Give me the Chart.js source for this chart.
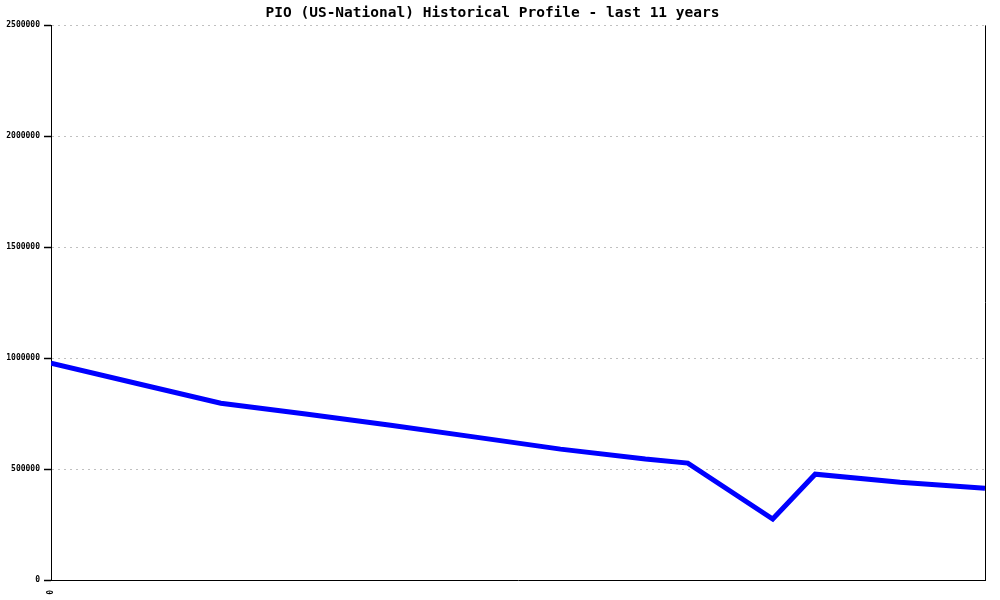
<!DOCTYPE html>
<html>
<head>
<meta charset="utf-8">
<script src="https://cdn.jsdelivr.net/npm/chart.js@4/dist/chart.umd.min.js"></script>
<style>
  html, body { margin: 0; padding: 0; background: #fff; }
  #wrap { width: 1000px; height: 600px; position: relative; }
</style>
</head>
<body>
<div id="wrap"><canvas id="lineChart"></canvas></div>
<script>
// years since start of the 11 year window
const years = [0, 1, 2, 3, 4, 5, 6, 7, 7.5, 8.5, 9, 10, 11]
const values = [977000, 887000, 797000, 748000, 698000, 644000, 590000, 545000, 527000, 275000, 477000, 441000, 414000]
const yTicks = [0, 500000, 1000000, 1500000, 2000000, 2500000]
const xTicks = [0]

const mono = "'DejaVu Sans Mono', 'Liberation Mono', monospace"

// right hand frame line, the source chart closes the plot box on that side
const rightBorder = {
  id: 'rightBorder',
  afterDraw(chart) {
    const { ctx, chartArea } = chart
    ctx.save()
    ctx.strokeStyle = '#000'
    ctx.lineWidth = 1
    ctx.beginPath()
    ctx.moveTo(chartArea.right + 0.5, chartArea.top)
    ctx.lineTo(chartArea.right + 0.5, chartArea.bottom)
    ctx.stroke()
    ctx.restore()
  }
}

const ctx = document.getElementById('lineChart').getContext('2d')
new Chart(ctx, {
  type: 'line',
  data: {
    datasets: [{
      data: years.map((y, i) => ({ x: y, y: values[i] })),
      borderColor: '#0000ff',
      borderWidth: 5,
      pointRadius: 0,
      tension: 0,
      fill: false
    }]
  },
  options: {
    animation: false,
    responsive: true,
    maintainAspectRatio: false,
    layout: { padding: { right: 15, top: 0, left: 0, bottom: 0 } },
    plugins: {
      legend: { display: false },
      tooltip: { enabled: false },
      title: {
        display: true,
        text: 'PIO (US-National) Historical Profile - last 11 years',
        color: '#000',
        font: { family: mono, size: 14.5, weight: 'bold' },
        padding: { top: 5, bottom: 3 }
      }
    },
    scales: {
      x: {
        type: 'linear',
        min: 0,
        max: 11,
        afterBuildTicks: (scale) => { scale.ticks = xTicks.map(v => ({ value: v })) },
        afterFit: (scale) => { scale.height = 20 },
        grid: { display: false, drawOnChartArea: false },
        border: { color: '#000', width: 1 },
        ticks: {
          color: '#000',
          font: { family: mono, size: 8, weight: 'bold' },
          minRotation: 90,
          maxRotation: 90,
          padding: 2
        }
      },
      y: {
        min: 0,
        max: 2500000,
        afterBuildTicks: (scale) => { scale.ticks = yTicks.map(v => ({ value: v })) },
        afterFit: (scale) => { scale.width = 51 },
        border: { color: '#000', width: 1, dash: [2, 4] },
        grid: {
          color: '#c0c0c0',
          lineWidth: 1,
          drawTicks: true,
          tickLength: 7,
          tickColor: '#000',
          tickBorderDash: [],
          tickWidth: 1.5
        },
        ticks: {
          color: '#000',
          font: { family: mono, size: 8, weight: 'bold' },
          padding: 4,
          callback: (v) => String(v)
        }
      }
    }
  },
  plugins: [rightBorder]
})
</script>
</body>
</html>
